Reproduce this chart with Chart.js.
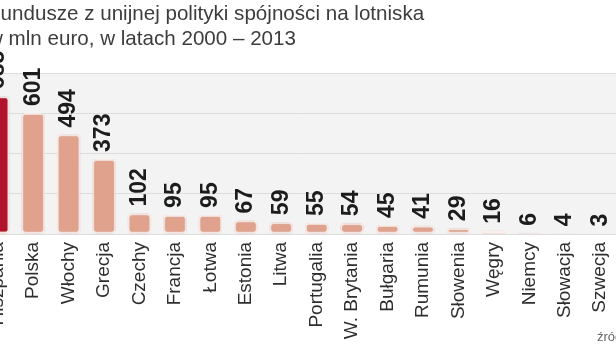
<!DOCTYPE html>
<html>
<head>
<meta charset="utf-8">
<script src="https://cdn.jsdelivr.net/npm/chart.js@4"></script>
<style>
  html, body { margin: 0; padding: 0; background: #fff; overflow: hidden; }
  #wrap { position: relative; width: 616px; height: 347px; overflow: hidden; }
  #title { position: absolute; left: -12px; top: 0; font-family: "Liberation Sans", Arial, sans-serif;
           font-size: 20.6px; line-height: 25px; color: #3d3d3d; white-space: nowrap; }
  #src { position: absolute; left: 597px; top: 329px; font-family: "Liberation Sans", Arial, sans-serif;
         font-size: 13px; color: #666; white-space: nowrap; }
  #box { position: absolute; left: -40px; top: 0; width: 671px; height: 347px; }
</style>
</head>
<body>
<div id="wrap">
  <div id="box"><canvas id="myChart"></canvas></div>
  <div id="title">Fundusze z unijnej polityki spójności na lotniska<br>w mln euro, w latach 2000 – 2013</div>
  <div id="src">źródło: KE</div>
</div>
<script>
// kraje i kwoty (mln euro)
var countries = ["Hiszpania", "Polska", "Włochy", "Grecja", "Czechy", "Francja", "Łotwa", "Estonia", "Litwa",
  "Portugalia", "W. Brytania", "Bułgaria", "Rumunia", "Słowenia", "Węgry", "Niemcy", "Słowacja", "Szwecja"];
var amounts = [685, 601, 494, 373, 102, 95, 95, 67, 59, 55, 54, 45, 41, 29, 16, 6, 4, 3];
var gridTicks = [0, 200, 400, 600, 800];

var barColors = countries.map(function (c, i) { return i === 0 ? "#b1132d" : "#e1a28d"; });

// szare tlo pod wykresem
var plotBg = {
  id: "plotBg",
  beforeDraw: function (chart) {
    var a = chart.chartArea, ctx = chart.ctx;
    ctx.save();
    ctx.fillStyle = "#f3f3f3";
    ctx.fillRect(a.left, a.top, a.right - a.left, a.bottom - a.top);
    ctx.restore();
  }
};

// lekka obwodka wokol slupkow
var barGlow = {
  id: "barGlow",
  beforeDatasetsDraw: function (chart) {
    chart.ctx.save();
    chart.ctx.shadowColor = "rgba(190,130,115,0.7)";
    chart.ctx.shadowBlur = 2;
  },
  afterDatasetsDraw: function (chart) {
    chart.ctx.restore();
  }
};

// wartosci nad slupkami, obrocone
var valueLabels = {
  id: "valueLabels",
  afterDatasetsDraw: function (chart) {
    var ctx = chart.ctx;
    var meta = chart.getDatasetMeta(0);
    ctx.save();
    ctx.font = "bold 23px 'Liberation Sans', Arial, sans-serif";
    ctx.fillStyle = "#1c1c1c";
    ctx.textAlign = "left";
    ctx.textBaseline = "middle";
    meta.data.forEach(function (bar, i) {
      ctx.save();
      ctx.translate(bar.x, bar.y - 7);
      ctx.rotate(-Math.PI / 2);
      ctx.fillText(String(amounts[i]), 0, 0);
      ctx.restore();
    });
    ctx.restore();
  }
};

new Chart("myChart", {
  type: "bar",
  data: {
    labels: countries,
    datasets: [{
      data: amounts,
      backgroundColor: barColors,
      borderColor: "#fbf0ec",
      borderWidth: 2,
      borderRadius: 4,
      borderSkipped: false,
      barPercentage: 0.66,
      categoryPercentage: 1
    }]
  },
  options: {
    responsive: true,
    maintainAspectRatio: false,
    animation: false,
    layout: { padding: { left: 20, top: 73, right: 0, bottom: 0 } },
    plugins: { legend: { display: false }, tooltip: { enabled: false } },
    scales: {
      x: {
        grid: { display: false, drawTicks: false },
        border: { display: false },
        afterFit: function (s) { s.height = 113; },
        ticks: {
          autoSkip: false,
          minRotation: 90,
          maxRotation: 90,
          padding: 8,
          color: "#2e2e2e",
          font: { family: "'Liberation Sans', Arial, sans-serif", size: 19 }
        }
      },
      y: {
        min: gridTicks[0],
        max: gridTicks[gridTicks.length - 1],
        afterFit: function (s) { s.width = 0; },
        afterBuildTicks: function (s) { s.ticks = gridTicks.map(function (v) { return { value: v }; }); },
        grid: { color: "#dcdcdc", lineWidth: 1, drawTicks: false },
        border: { display: false },
        ticks: { display: false }
      }
    }
  },
  plugins: [plotBg, barGlow, valueLabels]
});
</script>
</body>
</html>
